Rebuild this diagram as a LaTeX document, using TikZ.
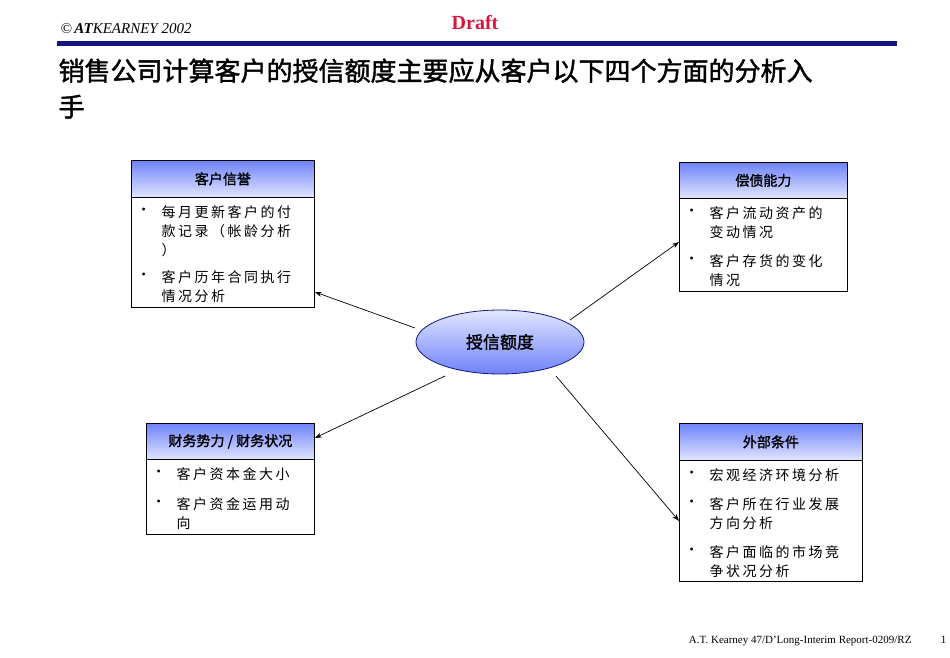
\documentclass[tikz,border=0pt]{standalone}
\usepackage{fontspec}
\setmainfont{Liberation Serif}
\newfontfamily\cjk{Noto Sans CJK SC}
\newfontfamily\cjkb[LetterSpace=18]{Noto Sans CJK SC}
\newfontfamily\cjkbold[FakeBold=1.5]{Noto Sans CJK SC}
\usetikzlibrary{shapes.geometric,arrows.meta}
\definecolor{hdrblue}{RGB}{110,130,250}
\definecolor{hdrlight}{RGB}{225,230,255}
\definecolor{navy}{RGB}{20,20,130}
\tikzset{
  hdr/.style={draw=black, line width=0.8pt, top color=hdrblue, bottom color=hdrlight, anchor=north west, inner sep=0pt, font=\fontsize{14}{16}\selectfont\cjkbold},
  bodybox/.style={draw=black, line width=0.8pt, fill=white, anchor=north west, inner sep=0pt},
  itemtxt/.style={anchor=north west, align=left, font=\fontsize{14}{19}\selectfont\cjkb},
  bul/.style={anchor=north west, font=\fontsize{12}{16}\selectfont},
  conn/.style={-{Stealth[length=7pt,width=5pt]}, line width=0.7pt}
}
\begin{document}
\begin{tikzpicture}[x=1pt,y=-1pt]
\useasboundingbox (0,0) rectangle (950,658);
% header
\node[anchor=base west, font=\fontsize{15}{15}\selectfont\itshape] (cr) at (57,34) {©\,\textbf{AT}KEARNEY 2002};
\node[anchor=base, font=\fontsize{20}{20}\selectfont\bfseries, text={rgb,255:red,220;green,20;blue,60}] (draft) at (475,30) {Draft};
\fill[navy] (57,41) rectangle (897,46);
\node[anchor=north west, align=left, font=\fontsize{26}{36}\selectfont\cjkbold] (title) at (55,55) {销售公司计算客户的授信额度主要应从客户以下四个方面的分析入\\手};
% box 1
\node[bodybox, minimum width=183pt, minimum height=110pt] (b1) at (131,197) {};
\node[hdr, minimum width=183pt, minimum height=37pt] (h1) at (131,160) {客户信誉};
\node[bul] (b1a) at (138,205) {•};
\node[itemtxt] (t1a) at (158,202) {每月更新客户的付\\款记录（帐龄分析\\）};
\node[bul] (b1b) at (138,270) {•};
\node[itemtxt] (t1b) at (158,267) {客户历年合同执行\\情况分析};
% box 2
\node[bodybox, minimum width=168pt, minimum height=93pt] (b2) at (679,198) {};
\node[hdr, minimum width=168pt, minimum height=36pt] (h2) at (679,162) {偿债能力};
\node[bul] (b2a) at (686,206) {•};
\node[itemtxt] (t2a) at (706,203) {客户流动资产的\\变动情况};
\node[bul] (b2b) at (686,254) {•};
\node[itemtxt] (t2b) at (706,251) {客户存货的变化\\情况};
% box 3
\node[bodybox, minimum width=168pt, minimum height=75pt] (b3) at (146,459) {};
\node[hdr, minimum width=168pt, minimum height=36pt] (h3) at (146,423) {财务势力 / 财务状况};
\node[bul] (b3a) at (153,467) {•};
\node[itemtxt] (t3a) at (173,464) {客户资本金大小};
\node[bul] (b3b) at (153,497) {•};
\node[itemtxt] (t3b) at (173,494) {客户资金运用动\\向};
% box 4
\node[bodybox, minimum width=183pt, minimum height=121pt] (b4) at (679,460) {};
\node[hdr, minimum width=183pt, minimum height=37pt] (h4) at (679,423) {外部条件};
\node[bul] (b4a) at (686,468) {•};
\node[itemtxt] (t4a) at (706,465) {宏观经济环境分析};
\node[bul] (b4b) at (686,497) {•};
\node[itemtxt] (t4b) at (706,494) {客户所在行业发展\\方向分析};
\node[bul] (b4c) at (686,545) {•};
\node[itemtxt] (t4c) at (706,542) {客户面临的市场竞\\争状况分析};
% ellipse
\node[ellipse, draw=navy, line width=0.8pt, top color=hdrlight, bottom color=hdrblue, minimum width=168pt, minimum height=64pt, inner sep=0pt, font=\fontsize{17}{17}\selectfont\cjkbold] (e) at (500,342) {授信额度};
% connectors
\coordinate (p1) at (415,328);
\coordinate (p2) at (570,320);
\coordinate (p3) at (445,376);
\coordinate (p4) at (556,376);
\draw[conn] (p1) -- (b1.east |- 0,292);
\draw[conn] (p2) -- (b2.west |- 0,242);
\draw[conn] (p3) -- (b3.east |- 0,438);
\draw[conn] (p4) -- (b4.west);
% footer
\node[anchor=base east, font=\fontsize{11}{11}\selectfont] (ft) at (915,643) {A.T. Kearney 47/D’Long-Interim Report-0209/RZ};
\node[anchor=base east, font=\fontsize{11}{11}\selectfont] (pg) at (950,643) {1};
\end{tikzpicture}
\end{document}
